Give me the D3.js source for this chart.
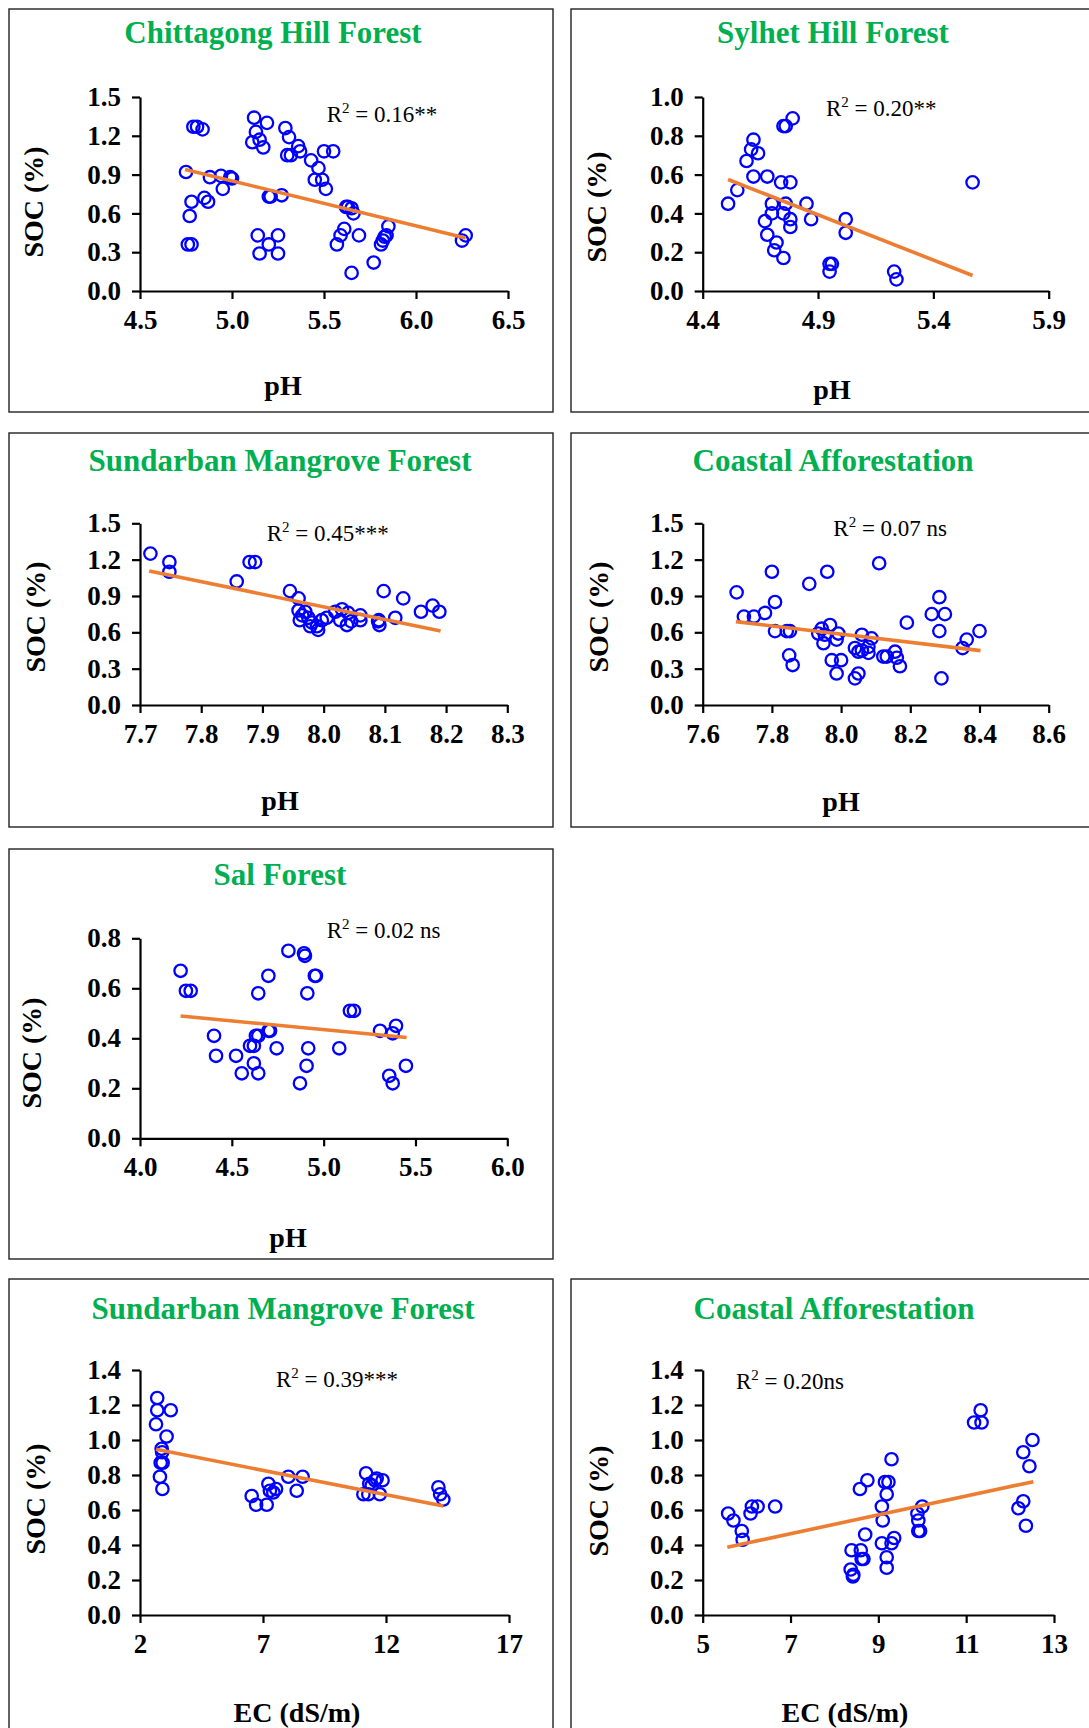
<!DOCTYPE html>
<html lang="en">
<head>
<meta charset="utf-8">
<title>SOC vs pH and EC</title>
<script src="https://d3js.org/d3.v7.min.js"></script>
<style>
  body { margin: 0; background: #fff; }
  svg text { font-family: "Liberation Serif", "Times New Roman", serif; }
</style>
</head>
<body>
<div id="chart"></div>
<script>

// Chittagong Hill Forest: pH vs SOC (%)
var ph1 = [4.75,4.79,4.81,4.84,4.77,4.78,4.76,4.78,4.85,4.87,4.88,4.94,4.95,4.99,5.00,5.12,5.13,5.11,5.15,5.17,
           5.19,5.14,5.15,5.20,5.21,5.20,5.25,5.25,5.27,5.29,5.31,5.30,5.32,5.36,5.37,5.43,5.45,5.47,5.49,5.51,
           5.50,5.55,5.57,5.59,5.61,5.62,5.63,5.65,5.66,5.65,5.69,5.77,5.81,5.82,5.83,5.84,5.85,6.25,6.27];
var soc1 = [0.92,1.27,1.27,1.25,0.58,0.69,0.36,0.36,0.72,0.69,0.88,0.89,0.79,0.88,0.87,1.34,1.23,1.15,1.17,1.11,
            1.30,0.43,0.29,0.73,0.73,0.36,0.43,0.29,0.74,1.26,1.19,1.05,1.05,1.12,1.08,1.01,0.86,0.95,0.86,0.79,
            1.08,1.08,0.36,0.43,0.48,0.65,0.65,0.64,0.60,0.14,0.43,0.22,0.36,0.39,0.42,0.43,0.50,0.39,0.43];
var trend1 = [[4.745, 0.94], [6.27, 0.41]];

// Sylhet Hill Forest
var ph2 = [4.51,4.55,4.59,4.62,4.61,4.64,4.62,4.68,4.70,4.67,4.70,4.68,4.72,4.71,4.75,4.74,4.75,4.76,4.79,4.78,
           4.76,4.75,4.78,4.78,4.85,4.87,4.95,4.96,4.95,5.02,5.02,5.23,5.24,5.57];
var soc2 = [0.45,0.52,0.67,0.78,0.73,0.71,0.59,0.59,0.45,0.36,0.40,0.29,0.25,0.21,0.17,0.56,0.85,0.85,0.89,0.56,
            0.45,0.40,0.37,0.33,0.45,0.37,0.14,0.14,0.10,0.37,0.30,0.10,0.06,0.56];
var trend2 = [[4.51, 0.575], [5.57, 0.08]];

// Sundarban Mangrove Forest (pH)
var ph3 = [7.717,7.748,7.748,7.858,7.879,7.888,7.945,7.959,7.959,7.97,7.961,7.975,7.981,7.989,7.991,7.978,7.997,
           8.019,8.03,8.027,8.038,8.04,8.06,8.06,8.089,8.091,8.098,8.117,8.13,8.159,8.178,8.189,7.965,8.005,8.09,8.045];
var soc3 = [1.25,1.18,1.10,1.02,1.18,1.18,0.94,0.88,0.78,0.77,0.70,0.72,0.68,0.65,0.62,0.65,0.70,
            0.77,0.79,0.70,0.66,0.76,0.74,0.70,0.69,0.66,0.94,0.72,0.88,0.77,0.82,0.77,0.74,0.72,0.70,0.69];
var trend3 = [[7.715, 1.107], [8.191, 0.611]];

// Coastal Afforestation (pH)
var ph4 = [7.698,7.719,7.748,7.78,7.80,7.809,7.809,7.843,7.852,7.85,7.86,7.908,7.96,7.934,7.944,7.953,7.968,7.949,
           7.992,7.987,7.973,8.0,7.987,8.04,8.05,8.06,8.088,8.04,8.05,8.06,8.079,8.079,8.11,8.122,8.132,8.156,
           8.161,8.17,8.19,8.262,8.284,8.284,8.30,8.29,8.351,8.363,8.40];
var soc4 = [0.93,0.73,0.73,0.76,1.10,0.85,0.61,0.61,0.61,0.41,0.33,1.00,1.10,0.59,0.63,0.58,0.66,0.51,
            0.59,0.54,0.37,0.37,0.26,0.22,0.26,0.58,0.55,0.47,0.44,0.45,0.48,0.43,1.17,0.40,0.40,0.44,
            0.39,0.32,0.68,0.75,0.89,0.61,0.75,0.22,0.47,0.54,0.61];
var trend4 = [[7.696, 0.688], [8.403, 0.449]];

// Sal Forest
var ph5 = [4.221,4.25,4.276,4.403,4.414,4.523,4.554,4.599,4.62,4.631,4.644,4.62,4.644,4.644,4.699,4.70,4.708,4.744,
           4.808,4.871,4.893,4.898,4.907,4.911,4.916,4.952,4.958,5.085,5.143,5.165,5.307,5.357,5.376,5.376,5.394,5.448];
var soc5 = [0.67,0.59,0.59,0.41,0.33,0.33,0.26,0.37,0.37,0.41,0.41,0.30,0.26,0.58,0.65,0.43,0.43,0.36,
            0.75,0.22,0.74,0.73,0.29,0.58,0.36,0.65,0.65,0.36,0.51,0.51,0.43,0.25,0.42,0.22,0.45,0.29];
var trend5 = [[4.221, 0.489], [5.452, 0.403]];

// Sundarban Mangrove Forest (EC)
var ec6 = [2.7,2.7,2.65,3.25,3.08,2.88,2.9,2.84,2.92,2.81,2.91,6.54,6.72,7.22,7.28,7.42,7.15,7.53,8.03,8.37,
           8.61,11.19,11.08,11.28,11.32,11.42,11.55,11.62,11.86,11.75,14.13,14.2,14.33];
var soc6 = [1.24,1.17,1.09,1.17,1.02,0.95,0.93,0.87,0.87,0.79,0.72,0.68,0.63,0.75,0.71,0.70,0.63,0.72,0.79,0.71,
            0.79,0.81,0.69,0.69,0.75,0.74,0.77,0.78,0.77,0.69,0.73,0.69,0.66];
var trend6 = [[2.65, 0.947], [14.33, 0.623]];

// Coastal Afforestation (EC)
var ec7 = [5.58,5.70,5.89,5.91,6.09,6.12,6.25,6.65,8.39,8.37,8.42,8.58,8.75,8.60,8.62,8.66,8.70,9.08,9.10,9.15,
           9.23,9.19,9.08,9.19,9.19,9.30,9.30,9.36,9.89,9.91,9.91,9.95,10.0,11.18,11.33,11.35,12.30,12.51,12.44,12.19,
           12.30,12.36,8.43];
var soc7 = [0.58,0.54,0.48,0.43,0.58,0.62,0.62,0.62,0.37,0.26,0.22,0.72,0.77,0.37,0.32,0.32,0.46,0.62,0.54,0.76,
            0.76,0.69,0.41,0.33,0.27,0.89,0.41,0.44,0.58,0.54,0.48,0.48,0.62,1.10,1.17,1.10,0.93,1.00,0.85,0.61,
            0.65,0.51,0.23];
var trend7 = [[5.56, 0.387], [12.53, 0.762]];

// axis ticks
var xTicks1 = [4.5, 5.0, 5.5, 6.0, 6.5];
var xTicks2 = [4.4, 4.9, 5.4, 5.9];
var xTicks3 = [7.7, 7.8, 7.9, 8.0, 8.1, 8.2, 8.3];
var xTicks4 = [7.6, 7.8, 8.0, 8.2, 8.4, 8.6];
var xTicks5 = [4.0, 4.5, 5.0, 5.5, 6.0];
var xTicks6 = [2, 7, 12, 17];
var xTicks7 = [5, 7, 9, 11, 13];
var yTicks15 = [0.0, 0.3, 0.6, 0.9, 1.2, 1.5];
var yTicks10 = [0.0, 0.2, 0.4, 0.6, 0.8, 1.0];
var yTicks08 = [0.0, 0.2, 0.4, 0.6, 0.8];
var yTicks14 = [0.0, 0.2, 0.4, 0.6, 0.8, 1.0, 1.2, 1.4];

var titles = ["Chittagong Hill Forest", "Sylhet Hill Forest", "Sundarban Mangrove Forest",
              "Coastal Afforestation", "Sal Forest", "Sundarban Mangrove Forest", "Coastal Afforestation"];
var r2Values = ["0.16**", "0.20**", "0.45***", "0.07 ns", "0.02 ns", "0.39***", "0.20ns"];

var width = 1089;
var height = 1728;

var svg = d3.select('#chart').append('svg')
    .attr('width', width)
    .attr('height', height);

svg.append('rect').attr('width', width).attr('height', height).attr('fill', '#fff');

// layout of each panel (box, plot area, label anchors)
var panels = [
  { xs: ph1, ys: soc1, trend: trend1, xt: xTicks1, yt: yTicks15, xl: "pH", xf: ".1f",
    box: [9, 9, 544, 403], plot: [140, 508, 97, 291], title: [273, 43], ylab: [33, 202], xlab: [283, 395], r2: [326.7, 121.7] },
  { xs: ph2, ys: soc2, trend: trend2, xt: xTicks2, yt: yTicks10, xl: "pH", xf: ".1f",
    box: [571, 9, 544, 403], plot: [702.7, 1048.7, 97, 291], title: [833, 43], ylab: [596, 207], xlab: [832, 399], r2: [826, 116] },
  { xs: ph3, ys: soc3, trend: trend3, xt: xTicks3, yt: yTicks15, xl: "pH", xf: ".1f",
    box: [9, 433, 544, 394], plot: [140, 507.3, 523.3, 705], title: [280, 471], ylab: [35, 617], xlab: [280, 810], r2: [266.7, 540.7] },
  { xs: ph4, ys: soc4, trend: trend4, xt: xTicks4, yt: yTicks15, xl: "pH", xf: ".1f",
    box: [571, 433, 544, 394], plot: [702.7, 1048.7, 523.3, 705], title: [833, 471], ylab: [598, 617], xlab: [841, 811], r2: [833.3, 536] },
  { xs: ph5, ys: soc5, trend: trend5, xt: xTicks5, yt: yTicks08, xl: "pH", xf: ".1f",
    box: [9, 849, 544, 410], plot: [140, 507.3, 938.3, 1138.3], title: [280, 885], ylab: [31, 1053], xlab: [288, 1247], r2: [326.7, 938.3] },
  { xs: ec6, ys: soc6, trend: trend6, xt: xTicks6, yt: yTicks14, xl: "EC (dS/m)", xf: "d",
    box: [9, 1279, 544, 470], plot: [140, 509, 1370, 1615], title: [283, 1319], ylab: [35, 1499], xlab: [297, 1722], r2: [276, 1386.7] },
  { xs: ec7, ys: soc7, trend: trend7, xt: xTicks7, yt: yTicks14, xl: "EC (dS/m)", xf: "d",
    box: [571, 1279, 544, 470], plot: [702.7, 1054, 1370, 1615], title: [834, 1319], ylab: [598, 1501], xlab: [845, 1722], r2: [736, 1389.3] }
];

panels.forEach(function(p, i) {
  var g = svg.append('g');

  g.append('rect')
    .attr('x', p.box[0]).attr('y', p.box[1])
    .attr('width', p.box[2]).attr('height', p.box[3])
    .attr('fill', 'none').attr('stroke', '#222').attr('stroke-width', 1.4);

  var x = d3.scaleLinear()
      .domain([p.xt[0], p.xt[p.xt.length - 1]])
      .range([p.plot[0], p.plot[1]]);
  var y = d3.scaleLinear()
      .domain([0, p.yt[p.yt.length - 1]])
      .range([p.plot[3], p.plot[2]]);

  var xAxis = g.append('g')
      .attr('transform', 'translate(0,' + p.plot[3] + ')')
      .call(d3.axisBottom(x).tickValues(p.xt).tickFormat(d3.format(p.xf))
            .tickSize(8).tickSizeOuter(0).tickPadding(11));
  var yAxis = g.append('g')
      .attr('transform', 'translate(' + p.plot[0] + ',0)')
      .call(d3.axisLeft(y).tickValues(p.yt).tickFormat(d3.format(".1f"))
            .tickSize(8).tickSizeOuter(0).tickPadding(11));

  [xAxis, yAxis].forEach(function(a) {
    a.select('.domain').attr('stroke', '#000').attr('stroke-width', 2.2);
    a.selectAll('.tick line').attr('stroke', '#000').attr('stroke-width', 2.2);
    a.selectAll('.tick text')
      .attr('fill', '#000')
      .style('font-family', '"Liberation Serif", "Times New Roman", serif')
      .style('font-size', '27px')
      .style('font-weight', 'bold');
  });

  // scatter points
  g.selectAll('circle.pt')
    .data(p.xs.map(function(v, k) { return [v, p.ys[k]]; }))
    .enter().append('circle')
    .attr('class', 'pt')
    .attr('cx', function(d) { return x(d[0]); })
    .attr('cy', function(d) { return y(d[1]); })
    .attr('r', 6.2)
    .attr('fill', 'none')
    .attr('stroke', '#0000FF')
    .attr('stroke-width', 2.3);

  // linear trend line
  g.append('line')
    .attr('x1', x(p.trend[0][0])).attr('y1', y(p.trend[0][1]))
    .attr('x2', x(p.trend[1][0])).attr('y2', y(p.trend[1][1]))
    .attr('stroke', '#ED7D31').attr('stroke-width', 3.6);

  g.append('text')
    .attr('x', p.title[0]).attr('y', p.title[1])
    .attr('text-anchor', 'middle')
    .attr('fill', '#00B050')
    .style('font-size', '31px').style('font-weight', 'bold')
    .text(titles[i]);

  g.append('text')
    .attr('transform', 'translate(' + p.ylab[0] + ',' + p.ylab[1] + ') rotate(-90)')
    .attr('text-anchor', 'middle')
    .attr('dy', '0.35em')
    .style('font-size', '28px').style('font-weight', 'bold')
    .text('SOC (%)');

  g.append('text')
    .attr('x', p.xlab[0]).attr('y', p.xlab[1])
    .attr('text-anchor', 'middle')
    .style('font-size', '28px').style('font-weight', 'bold')
    .text(p.xl);

  var r2 = g.append('text')
    .attr('x', p.r2[0]).attr('y', p.r2[1])
    .style('font-size', '23px');
  r2.append('tspan').text('R');
  r2.append('tspan').attr('dy', -9).style('font-size', '15px').text('2');
  r2.append('tspan').attr('dy', 9).text(' = ' + r2Values[i]);
});

</script>
</body>
</html>
